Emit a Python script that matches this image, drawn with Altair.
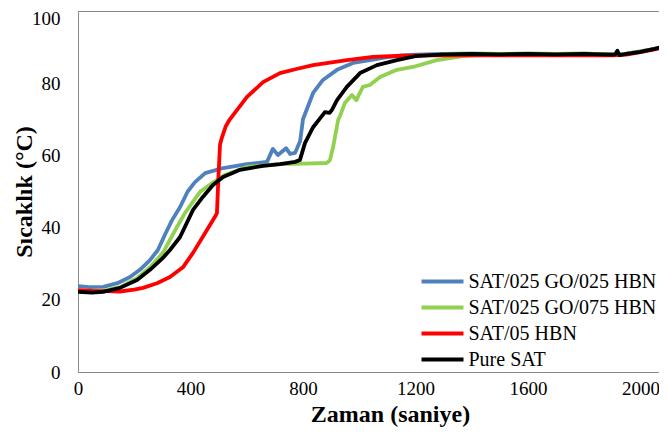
import altair as alt
import pandas as pd

series_names = ["SAT/025 GO/025 HBN", "SAT/025 GO/075 HBN", "SAT/05 HBN", "Pure SAT"]
series_colors = ["#4F81BD", "#92D050", "#FF0000", "#000000"]

plateau_t = [1300, 1400, 1500, 1600, 1700, 1800, 1900, 1950, 2000, 2050, 2100]

blue_t = [0, 40, 90, 140, 185, 220, 256, 284, 309, 334, 363, 390, 416, 452, 516, 601, 672,
          693, 711, 740, 754, 772, 790, 800, 836, 871, 921, 978, 1038, 1100, 1145, 1200] + plateau_t
blue_v = [23.8, 23.5, 23.6, 24.6, 26.3, 28.3, 31.0, 33.8, 38.0, 42.0, 45.7, 50.0, 52.6, 55.1, 56.5, 57.6, 58.2,
          61.8, 60.1, 62.0, 60.4, 60.7, 64.0, 70.0, 77.3, 80.9, 83.7, 85.6, 86.4, 87.2, 87.6, 87.9,
          88.1, 88.2, 88.1, 88.2, 88.1, 88.2, 88.0, 88.2, 88.8, 89.5, 90.3]

green_t = [0, 50, 100, 150, 210, 256, 302, 340, 380, 434, 480, 520, 601, 718, 800, 885, 896, 907,
           925, 932, 949, 974, 990, 1000, 1013, 1038, 1074, 1134, 1191, 1276, 1369, 1450] + plateau_t
green_v = [22.6, 22.5, 22.7, 23.5, 26.0, 29.0, 33.0, 38.5, 44.0, 49.9, 52.5, 54.5, 56.8, 57.6, 57.7, 57.9, 58.7, 62.3,
           69.8, 71.0, 74.5, 76.7, 75.3, 77.0, 79.0, 79.5, 81.7, 83.7, 84.5, 86.4, 87.5, 88.0,
           88.1, 88.2, 88.1, 88.2, 88.1, 88.2, 88.0, 88.2, 88.8, 89.5, 90.3]

red_t = [0, 50, 100, 149, 200, 231, 281, 327, 373, 409, 452, 487, 494, 500, 505, 512, 525, 540,
         601, 658, 718, 780, 836, 956, 1049, 1150, 1250] + plateau_t
red_v = [22.7, 22.5, 22.4, 22.3, 22.8, 23.3, 24.6, 26.3, 29.0, 33.0, 38.5, 43.0, 44.0, 55.0, 63.0, 65.0, 68.0, 70.0,
         76.2, 80.3, 82.8, 84.0, 85.0, 86.4, 87.3, 87.6, 87.7,
         87.7, 87.8, 87.7, 87.8, 87.7, 87.8, 87.7, 87.9, 88.6, 89.4, 90.2]

black_t = [0, 50, 89, 149, 210, 256, 302, 327, 363, 409, 444, 480, 516, 576, 658, 718, 772, 789, 807,
           836, 860, 878, 895, 903, 921, 956, 1003, 1063, 1134, 1200,
           1300, 1400, 1500, 1600, 1700, 1800, 1900, 1910, 1918, 1925, 1950, 2000, 2050, 2100]
black_v = [22.2, 22.0, 22.2, 23.3, 25.5, 28.3, 31.6, 33.8, 37.4, 44.9, 48.5, 51.8, 54.0, 56.0, 57.1, 57.6, 58.2, 58.7, 63.4,
           67.8, 70.2, 72.0, 71.8, 72.6, 75.3, 79.0, 82.8, 85.0, 86.4, 87.5,
           88.0, 88.1, 88.0, 88.1, 88.0, 88.1, 87.9, 88.0, 89.0, 87.8, 88.1, 88.7, 89.5, 90.5]

x_ticks = [0, 400, 800, 1200, 1600, 2000]
y_ticks = [0, 20, 40, 60, 80, 100]

rows = []
for name, ts, vs in zip(series_names, [blue_t, green_t, red_t, black_t], [blue_v, green_v, red_v, black_v]):
    for i, (t, v) in enumerate(zip(ts, vs)):
        rows.append({"series": name, "t": t, "v": v, "i": i})
df = pd.DataFrame(rows)

FONT = "Liberation Serif, Tinos, Times New Roman, DejaVu Serif, serif"
AXIS_GRAY = "#898989"

chart = alt.Chart(df).mark_line(strokeWidth=3.8, strokeJoin="round", clip=True).encode(
    x=alt.X("t:Q", scale=alt.Scale(domain=[0, 2066], nice=False, zero=False),
            axis=alt.Axis(values=x_ticks, format="d", title="Zaman (saniye)",
                          grid=False, ticks=False, labelPadding=7, domainColor=AXIS_GRAY,
                          labelFont=FONT, labelFontSize=19, labelColor="black",
                          titleFont=FONT, titleFontSize=24, titleFontWeight="bold", titleColor="black",
                          titleX=312, titleY=42, titleBaseline="middle", labelFlush=False)),
    y=alt.Y("v:Q", scale=alt.Scale(domain=[0, 100], nice=False),
            axis=alt.Axis(values=y_ticks, format="d", title="Sıcaklık (°C)",
                          grid=False, ticks=False, labelPadding=18, domainColor=AXIS_GRAY,
                          labelFont=FONT, labelFontSize=19, labelColor="black",
                          labelOffset={"condition": {"test": "datum.value === 100", "value": 7}, "value": 0},
                          titleFont=FONT, titleFontSize=24, titleFontWeight="bold", titleColor="black",
                          titleX=-54, titleBaseline="middle")),
    color=alt.Color("series:N", scale=alt.Scale(domain=series_names, range=series_colors),
                    legend=alt.Legend(title=None, orient="none", legendX=352, legendY=258,
                                      symbolType="M-2,0H2", symbolSize=441, symbolStrokeWidth=4,
                                      labelFont=FONT, labelFontSize=20, labelColor="black",
                                      labelOffset=13.5, rowPadding=3, padding=0, labelLimit=400)),
    order=alt.Order("i:Q"),
).properties(
    width=581, height=361,
    autosize=alt.AutoSizeParams(type="none"),
    padding={"left": 70, "top": 3, "right": 0, "bottom": 56},
).configure_view(stroke=AXIS_GRAY, strokeWidth=1)

chart.save("out.html", embed_options={"renderer": "svg", "actions": False})
